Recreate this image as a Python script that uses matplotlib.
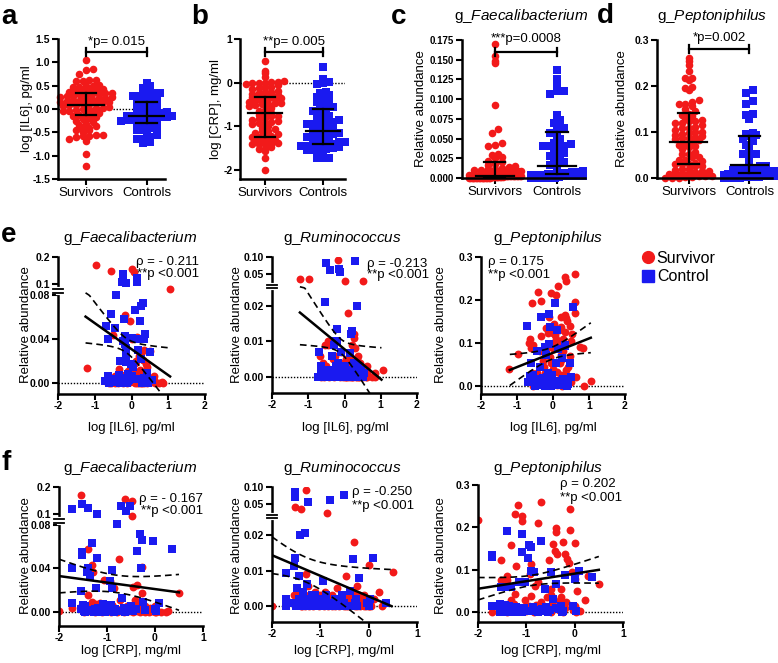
import numpy as np
import matplotlib
matplotlib.use('Agg')
import matplotlib.pyplot as plt
from matplotlib.lines import Line2D
from matplotlib.transforms import blended_transform_factory

# ---------------- data ----------------
groups = ['Survivors', 'Controls']

# IL6 cohort (panels a, c, d, e): one entry per subject
surv_il6 = [1.05, 0.85, 0.83, 0.75, 0.62, 0.6, 0.5, 0.5, 0.48, 0.42,
            0.4, 0.37, 0.37, 0.35, 0.34, 0.32, 0.32, 0.3, 0.28, 0.25,
            0.23, 0.23, 0.21, 0.2, 0.19, 0.18, 0.15, 0.14, 0.12, 0.1,
            0.09, 0.08, 0.05, 0.03, 0.0, 0.0, -0.02, -0.05, -0.05, -0.09,
            -0.1, -0.12, -0.14, -0.17, -0.2, -0.22, -0.28, -0.32, -0.34, -0.37,
            -0.4, -0.42, -0.45, -0.5, -0.55, -0.56, -0.57, -0.58, -0.6, -0.65,
            -0.68, -0.97, -1.22, 0.63, 0.61, 0.52, 0.47, 0.41, 0.39, 0.29,
            0.27, 0.26, 0.22, 0.16, 0.11, 0.07, 0.02, -0.08, -0.25, -0.46]
surv_faec_e = [0.092, 0.0, 0.001, 0.0, 0.002, 0.006, 0.029, 0.004, 0.003, 0.015,
               0.002, 0.01, 0.004, 0.030, 0.0, 0.008, 0.001, 0.021, 0.0, 0.027,
               0.003, 0.012, 0.0, 0.025, 0.007, 0.001, 0.042, 0.005, 0.009, 0.018,
               0.0, 0.146, 0.003, 0.006, 0.155, 0.040, 0.002, 0.057, 0.001, 0.011,
               0.004, 0.0, 0.008, 0.062, 0.003, 0.0, 0.007, 0.002, 0.013, 0.0,
               0.005, 0.001, 0.006, 0.044, 0.0, 0.148, 0.004, 0.002, 0.0, 0.003,
               0.001, 0.170, 0.014, 0.0, 0.003, 0.001, 0.005, 0.0, 0.017, 0.002,
               0.0, 0.01, 0.004, 0.0, 0.02, 0.001, 0.009, 0.003, 0.001, 0.0]
surv_rum_e = [0.002, 0.0, 0.001, 0.0, 0.003, 0.0, 0.038, 0.002, 0.001, 0.004,
              0.0, 0.003, 0.006, 0.0, 0.005, 0.002, 0.0, 0.008, 0.001, 0.011,
              0.004, 0.0, 0.009, 0.003, 0.002, 0.0, 0.001, 0.006, 0.0, 0.018,
              0.002, 0.0, 0.005, 0.0, 0.037, 0.003, 0.001, 0.004, 0.0, 0.002,
              0.007, 0.0, 0.004, 0.092, 0.001, 0.003, 0.0, 0.005, 0.002, 0.001,
              0.01, 0.0, 0.009, 0.003, 0.009, 0.0, 0.001, 0.004, 0.002, 0.0,
              0.006, 0.042, 0.041, 0.0, 0.001, 0.0, 0.002, 0.003, 0.0, 0.002,
              0.012, 0.001, 0.0, 0.003, 0.001, 0.004, 0.0, 0.002, 0.006, 0.01]
surv_pep_e = [0.012, 0.0, 0.088, 0.091, 0.196, 0.26, 0.01, 0.105, 0.14, 0.02,
              0.15, 0.245, 0.157, 0.037, 0.254, 0.165, 0.126, 0.026, 0.11, 0.0,
              0.161, 0.072, 0.138, 0.008, 0.053, 0.13, 0.004, 0.233, 0.1, 0.003,
              0.212, 0.01, 0.119, 0.145, 0.124, 0.04, 0.098, 0.053, 0.217, 0.068,
              0.16, 0.018, 0.124, 0.002, 0.135, 0.03, 0.057, 0.115, 0.198, 0.08,
              0.004, 0.218, 0.03, 0.015, 0.095, 0.0, 0.192, 0.03, 0.088, 0.109,
              0.1, 0.074, 0.039, 0.02, 0.17, 0.12, 0.07, 0.045, 0.01, 0.082,
              0.015, 0.062, 0.025, 0.094, 0.033, 0.108, 0.085, 0.09, 0.045, 0.004]

ctrl_il6 = [0.55, 0.5, 0.46, 0.41, 0.38, 0.35, 0.34, 0.32, 0.28, 0.27,
            0.25, 0.22, 0.21, 0.18, 0.15, 0.14, 0.12, 0.09, 0.05, 0.02,
            0.0, -0.02, -0.06, -0.09, -0.1, -0.12, -0.14, -0.15, -0.15, -0.16,
            -0.17, -0.18, -0.19, -0.2, -0.21, -0.23, -0.23, -0.23, -0.25, -0.28,
            -0.3, -0.32, -0.35, -0.4, -0.41, -0.44, -0.45, -0.5, -0.55, -0.6,
            -0.64, -0.65, -0.7, -0.72]
ctrl_faec_e = [0.003, 0.028, 0.0, 0.009, 0.045, 0.04, 0.005, 0.073, 0.0, 0.070,
               0.022, 0.057, 0.040, 0.03, 0.125, 0.110, 0.004, 0.067, 0.015, 0.041,
               0.006, 0.017, 0.003, 0.008, 0.002, 0.0, 0.106, 0.032, 0.025, 0.019,
               0.004, 0.036, 0.043, 0.0, 0.058, 0.137, 0.120, 0.038, 0.110, 0.005,
               0.02, 0.0, 0.007, 0.003, 0.080, 0.001, 0.050, 0.004, 0.063, 0.0,
               0.040, 0.006, 0.052, 0.002]
ctrl_rum_e = [0.001, 0.0, 0.002, 0.0, 0.003, 0.020, 0.001, 0.0, 0.088, 0.002,
              0.004, 0.0, 0.013, 0.012, 0.0066, 0.001, 0.0, 0.002, 0.0, 0.003,
              0.001, 0.0, 0.002, 0.001, 0.007, 0.057, 0.003, 0.0, 0.066, 0.002,
              0.0, 0.001, 0.004, 0.0134, 0.01, 0.0, 0.003, 0.001, 0.010, 0.002,
              0.009, 0.0, 0.006, 0.0615, 0.001, 0.0, 0.002, 0.081, 0.021, 0.0,
              0.003, 0.001, 0.007, 0.0]
ctrl_pep_e = [0.184, 0.02, 0.053, 0.005, 0.0, 0.01, 0.095, 0.093, 0.003, 0.015,
              0.064, 0.008, 0.002, 0.012, 0.003, 0.085, 0.129, 0.053, 0.192, 0.01,
              0.004, 0.025, 0.0, 0.138, 0.098, 0.167, 0.01, 0.015, 0.03, 0.005,
              0.0, 0.02, 0.072, 0.008, 0.002, 0.091, 0.012, 0.0, 0.006, 0.018,
              0.004, 0.16, 0.045, 0.003, 0.01, 0.08, 0.015, 0.0, 0.025, 0.053,
              0.022, 0.015, 0.008, 0.14]

# CRP cohort (panels b, f)
surv_crp = [-2.0, -1.72, -1.55, -1.52, -1.52, -1.48, -1.41, -1.41, -1.4, -1.39,
            -1.38, -1.32, -1.31, -1.3, -1.3, -1.25, -1.24, -1.23, -1.21, -1.17,
            -1.15, -1.1, -1.1, -1.06, -1.03, -1.0, -0.94, -0.93, -0.91, -0.9,
            -0.87, -0.85, -0.83, -0.8, -0.76, -0.76, -0.73, -0.7, -0.69, -0.65,
            -0.62, -0.58, -0.54, -0.5, -0.48, -0.48, -0.47, -0.46, -0.45, -0.42,
            -0.41, -0.38, -0.38, -0.36, -0.32, -0.3, -0.29, -0.28, -0.27, -0.25,
            -0.24, -0.21, -0.21, -0.18, -0.15, -0.12, -0.1, -0.1, -0.06, -0.03,
            0.0, 0.0, 0.01, 0.05, 0.12, 0.0, 0.22, 0.27, 0.02, 0.5]
surv_faec_f = [0.001, 0.004, 0.169, 0.002, 0.006, 0.0, 0.003, 0.005, 0.058, 0.016,
               0.001, 0.009, 0.043, 0.037, 0.002, 0.0, 0.004, 0.007, 0.003, 0.001,
               0.008, 0.002, 0.0, 0.029, 0.005, 0.001, 0.028, 0.003, 0.0, 0.006,
               0.002, 0.022, 0.004, 0.0, 0.001, 0.049, 0.011, 0.003, 0.002, 0.0,
               0.156, 0.005, 0.001, 0.004, 0.15, 0.002, 0.097, 0.0, 0.023, 0.011,
               0.003, 0.025, 0.001, 0.006, 0.0, 0.002, 0.004, 0.041, 0.017, 0.001,
               0.003, 0.0, 0.005, 0.002, 0.001, 0.0, 0.004, 0.002, 0.001, 0.003,
               0.0, 0.005, 0.002, 0.001, 0.0, 0.003, 0.0, 0.001, 0.0, 0.017]
surv_rum_f = [0.0, 0.002, 0.003, 0.045, 0.001, 0.004, 0.0, 0.040, 0.001, 0.002,
              0.0, 0.003, 0.0, 0.091, 0.009, 0.0058, 0.002, 0.0, 0.001, 0.003,
              0.0, 0.004, 0.001, 0.002, 0.0, 0.003, 0.001, 0.0, 0.002, 0.004,
              0.033, 0.0, 0.001, 0.002, 0.0, 0.003, 0.001, 0.0, 0.002, 0.005,
              0.0, 0.001, 0.003, 0.0, 0.002, 0.001, 0.0, 0.0086, 0.001, 0.0,
              0.002, 0.003, 0.0, 0.001, 0.004, 0.018, 0.0, 0.001, 0.002, 0.0058,
              0.0, 0.001, 0.003, 0.0, 0.002, 0.001, 0.0, 0.003, 0.0, 0.002,
              0.0117, 0.0, 0.001, 0.0, 0.002, 0.0, 0.004, 0.0, 0.001, 0.0097]
surv_pep_f = [0.217, 0.0, 0.02, 0.123, 0.077, 0.01, 0.086, 0.075, 0.005, 0.0,
              0.013, 0.03, 0.159, 0.004, 0.012, 0.02, 0.044, 0.232, 0.109, 0.254,
              0.008, 0.228, 0.215, 0.01, 0.028, 0.003, 0.015, 0.09, 0.113, 0.038,
              0.005, 0.0, 0.062, 0.018, 0.071, 0.211, 0.007, 0.025, 0.26, 0.012,
              0.003, 0.035, 0.123, 0.0, 0.054, 0.04, 0.008, 0.02, 0.162, 0.015,
              0.144, 0.198, 0.19, 0.138, 0.005, 0.03, 0.036, 0.054, 0.01, 0.0,
              0.165, 0.138, 0.011, 0.025, 0.125, 0.117, 0.195, 0.244, 0.095, 0.006,
              0.078, 0.015, 0.163, 0.05, 0.003, 0.09, 0.03, 0.085, 0.0, 0.067]

ctrl_crp = [0.35, 0.08, 0.02, 0.0, -0.04, -0.21, -0.24, -0.27, -0.29, -0.32,
            -0.38, -0.39, -0.45, -0.5, -0.52, -0.55, -0.6, -0.62, -0.65, -0.68,
            -0.7, -0.75, -0.8, -0.84, -0.86, -0.89, -0.9, -0.91, -0.94, -0.95,
            -0.97, -1.03, -1.05, -1.09, -1.1, -1.16, -1.21, -1.21, -1.23, -1.25,
            -1.28, -1.31, -1.36, -1.39, -1.4, -1.41, -1.42, -1.45, -1.52, -1.53,
            -1.53, -1.54, -1.55, -1.72, -1.72, -1.72, -1.12, -1.18, -1.3, -1.35,
            -1.45, -1.5, -1.08, -1.48]
ctrl_faec_f = [0.058, 0.008, 0.001, 0.003, 0.065, 0.002, 0.009, 0.066, 0.04, 0.072,
               0.056, 0.003, 0.001, 0.005, 0.131, 0.002, 0.111, 0.0, 0.004, 0.013,
               0.131, 0.001, 0.081, 0.003, 0.0, 0.039, 0.022, 0.006, 0.028, 0.002,
               0.001, 0.004, 0.0, 0.007, 0.002, 0.001, 0.102, 0.05, 0.022, 0.003,
               0.0, 0.063, 0.033, 0.04, 0.122, 0.037, 0.002, 0.005, 0.139, 0.055,
               0.052, 0.019, 0.003, 0.12, 0.04, 0.008, 0.0, 0.004, 0.001, 0.002,
               0.0, 0.006, 0.003, 0.001]
ctrl_rum_f = [0.001, 0.0135, 0.002, 0.0, 0.001, 0.008, 0.0, 0.002, 0.001, 0.0133,
              0.0, 0.0044, 0.0, 0.001, 0.075, 0.003, 0.0, 0.002, 0.001, 0.0,
              0.002, 0.0, 0.062, 0.001, 0.0, 0.003, 0.0, 0.001, 0.0072, 0.0,
              0.002, 0.0, 0.001, 0.0, 0.003, 0.0, 0.001, 0.0, 0.002, 0.056,
              0.0063, 0.0207, 0.0, 0.001, 0.002, 0.0, 0.02, 0.0086, 0.086, 0.071,
              0.0137, 0.0114, 0.001, 0.0095, 0.0, 0.002, 0.0, 0.003, 0.001, 0.004,
              0.002, 0.0, 0.001, 0.005]
ctrl_pep_f = [0.082, 0.098, 0.003, 0.078, 0.015, 0.088, 0.004, 0.0, 0.015, 0.008,
              0.067, 0.01, 0.032, 0.095, 0.005, 0.0, 0.012, 0.055, 0.002, 0.008,
              0.167, 0.0, 0.006, 0.095, 0.012, 0.004, 0.098, 0.155, 0.002, 0.159,
              0.128, 0.072, 0.01, 0.185, 0.142, 0.072, 0.005, 0.012, 0.0, 0.008,
              0.003, 0.059, 0.015, 0.192, 0.0, 0.059, 0.01, 0.004, 0.059, 0.008,
              0.012, 0.0, 0.02, 0.136, 0.131, 0.015, 0.005, 0.01, 0.003, 0.0,
              0.018, 0.006, 0.0, 0.012]

# median, 25th, 75th percentile bars as drawn (survivors, controls)
stats_a = [[0.086, -0.13, 0.34], [-0.16, -0.29, 0.14]]
stats_b = [[-0.70, -1.23, -0.33], [-1.10, -1.39, -0.60]]
stats_c = [[0.003, 0.001, 0.020], [0.0146, 0.0054, 0.058]]
stats_d = [[0.078, 0.031, 0.142], [0.0286, 0.011, 0.091]]
p_texts = ['*p= 0.015', '**p= 0.005', '***p=0.0008', '*p=0.002']

# regression line (x1, x2, y1, y2) and 95% band (x0, a, b)
fit_e = [[-1.25, 1.05, 0.0606, 0.006, -0.15, 0.0065, 0.021],
         [-1.23, 1.02, 0.0181, -0.00075, -0.1, 0.002, 0.0078],
         [-1.2, 1.05, 0.037, 0.112, -0.05, 0.014, 0.029]]
fit_f = [[-2.0, 0.5, 0.033, 0.018, -0.8, 0.008, 0.0111],
         [-2.0, 0.47, 0.0144, 0.0, -1.3, 0.0035, 0.0055],
         [-2.0, 0.5, 0.0554, 0.1, -0.88, 0.012, 0.0211]]
rho_e = ['\u03c1 = - 0.211', '\u03c1 = -0.213', '\u03c1 = 0.175']
rho_f = ['\u03c1 = - 0.167', '\u03c1 = -0.250', '\u03c1 = 0.202']
p_corr = '**p <0.001'
genera = ['Faecalibacterium', 'Ruminococcus', 'Peptoniphilus']

# ---------------- style ----------------
plt.rcParams['font.family'] = ['Liberation Sans', 'DejaVu Sans']
plt.rcParams['mathtext.fontset'] = 'custom'
plt.rcParams['mathtext.it'] = 'Liberation Sans:italic'
plt.rcParams['mathtext.rm'] = 'Liberation Sans'

RED = '#f21a1a'
BLUE = '#1a1af0'
W, H = 778, 663
fig = plt.figure(figsize=(W / 100, H / 100), dpi=100)


def box(l, r, t, b):
    return fig.add_axes([l / W, 1 - b / H, (r - l) / W, (b - t) / H])


def ftext(x, y, s, **kw):
    fig.text(x / W, 1 - y / H, s, **kw)


def style(ax):
    for s in ['top', 'right']:
        ax.spines[s].set_visible(False)
    for s in ['left', 'bottom']:
        ax.spines[s].set_linewidth(1.8)
    ax.tick_params(direction='out', length=4, width=1.5, pad=1.5)


def swarm(vals, pos, bin_h, w=0.11, half=0.42):
    v = np.sort(np.asarray(vals, float))
    rows = np.round(v / bin_h)
    xs = np.empty_like(v)
    for r in np.unique(rows):
        idx = np.where(rows == r)[0]
        n = len(idx)
        sp = w if n < 2 else min(w, 2 * half / (n - 1))
        xs[idx] = pos + (np.arange(n) - (n - 1) / 2) * sp
    return xs, v


def dot_panel(ax, surv, ctrl, stats, bin_h, ylim, xlim, yt, ytl, ptxt, br_y, txt_y,
              zero=False, tick_fs=7.5):
    style(ax)
    if zero:
        ax.axhline(0, color='k', lw=1, ls=(0, (1, 1.2)), zorder=1)
    for pos, vals, col, mk, st in [(0, surv, RED, 'o', stats[0]), (1, ctrl, BLUE, 's', stats[1])]:
        xs, ys = swarm(vals, pos, bin_h)
        ax.scatter(xs, ys, s=30 if mk == 'o' else 26, c=col, marker=mk, linewidths=0,
                   zorder=2, clip_on=False)
        med, lo, hi = st
        ax.plot([pos - 0.3, pos + 0.3], [med, med], color='k', lw=1.6, zorder=3)
        ax.plot([pos, pos], [lo, hi], color='k', lw=1.6, zorder=3)
        for v in (lo, hi):
            ax.plot([pos - 0.17, pos + 0.17], [v, v], color='k', lw=1.6, zorder=3)
    d = 0.028 * (ylim[1] - ylim[0])
    ax.plot([0, 1], [br_y, br_y], color='k', lw=1.6, clip_on=False)
    for p in (0, 1):
        ax.plot([p, p], [br_y - d, br_y + d], color='k', lw=1.6, clip_on=False)
    ax.text(0.5, txt_y, ptxt, ha='center', va='center', fontsize=9.5)
    ax.set_ylim(*ylim)
    ax.set_xlim(*xlim)
    ax.set_yticks(yt, ytl, fontsize=tick_fs, fontweight='bold')
    ax.set_xticks([0, 1], groups, fontsize=9.5)


def broken_scale(ax, ys_k, ts_k):
    ax.set_yscale('function', functions=(lambda y: np.interp(y, ys_k, ts_k),
                                         lambda t: np.interp(t, ts_k, ys_k)))


def axis_break(ax, y1, y2):
    tr = blended_transform_factory(ax.transAxes, ax.transData)
    ax.plot([0, 0], [y1, y2], color='white', lw=3, transform=tr, clip_on=False, zorder=5)
    for y in (y1, y2):
        ax.plot([-0.035, 0.035], [y, y], color='k', lw=1.3, transform=tr, clip_on=False, zorder=6)


def corr_panel(ax, xs, ys, xc, yc, fit, xlim, xt, ylim, yt, ytl, genus):
    style(ax)
    if genus == 'Faecalibacterium':
        broken_scale(ax, [-1, 0.08, 0.1, 1.0], [-1, 0.08, 0.09, 0.315])
    elif genus == 'Ruminococcus':
        broken_scale(ax, [-1, 0.025, 0.05, 1.0], [-1, 0.025, 0.0289, 0.1201])
    ax.axhline(0, color='k', lw=1, ls=(0, (1, 1.2)), zorder=1)
    ax.scatter(xs, ys, s=32, c=RED, marker='o', linewidths=0, zorder=2)
    ax.scatter(xc, yc, s=28, c=BLUE, marker='s', linewidths=0, zorder=2)
    x1, x2, y1, y2, x0, a, b = fit
    xx = np.linspace(x1, x2, 80)
    yy = y1 + (y2 - y1) * (xx - x1) / (x2 - x1)
    hw = np.sqrt(a ** 2 + (b * (xx - x0)) ** 2)
    ax.plot(xx, yy, color='k', lw=1.8, zorder=4)
    for sgn in (1, -1):
        ax.plot(xx, yy + sgn * hw, color='k', lw=1.2, ls=(0, (4, 2.5)), zorder=4)
    ax.set_xlim(*xlim)
    ax.set_ylim(*ylim)
    ax.set_xticks(xt, [str(v) for v in xt], fontsize=7.5, fontweight='bold')
    ax.set_yticks(yt, ytl, fontsize=7.5, fontweight='bold')
    ax.tick_params(axis='x', pad=1)
    if genus == 'Faecalibacterium':
        axis_break(ax, 0.084, 0.091)
    elif genus == 'Ruminococcus':
        axis_break(ax, 0.0249, 0.0295)


# ---------------- top row ----------------
ax = box(58, 165, 39, 179)
dot_panel(ax, surv_il6, ctrl_il6, stats_a, 0.1, (-1.5, 1.5), (-0.46, 1.3),
          [-1.5, -1.0, -0.5, 0.0, 0.5, 1.0, 1.5], ['-1.5', '-1.0', '-0.5', '0.0', '0.5', '1.0', '1.5'],
          p_texts[0], 1.22, 1.44, zero=True)
ax = box(240, 345, 39, 179)
dot_panel(ax, surv_crp, ctrl_crp, stats_b, 0.1, (-2.2, 1.0), (-0.43, 1.38),
          [-2, -1, 0, 1], ['-2', '-1', '0', '1'], p_texts[1], 0.70, 0.93, zero=True)
ax = box(462, 585, 40, 178)
ct = [0, 0.025, 0.05, 0.075, 0.1, 0.125, 0.15, 0.175]
dot_panel(ax, surv_faec_e, ctrl_faec_e, stats_c, 0.006, (0, 0.175), (-0.53, 1.45),
          ct, ['%.3f' % v for v in ct], p_texts[2], 0.16, 0.1763, tick_fs=7)
ax = box(657, 772, 40, 178)
dot_panel(ax, surv_pep_e, ctrl_pep_e, stats_d, 0.011, (0, 0.3), (-0.52, 1.37),
          [0, 0.1, 0.2, 0.3], ['0.0', '0.1', '0.2', '0.3'], p_texts[3], 0.28, 0.3043)

ftext(27, 109, 'log [IL6], pg/ml', rotation=90, ha='center', va='center', fontsize=9.5)
ftext(216, 109, 'log [CRP], mg/ml', rotation=90, ha='center', va='center', fontsize=9.5)
ftext(421, 109, 'Relative abundance', rotation=90, ha='center', va='center', fontsize=9.5)
ftext(622, 109, 'Relative abundance', rotation=90, ha='center', va='center', fontsize=9.5)
ftext(521, 16, r'g_$\mathit{Faecalibacterium}$', ha='center', va='center', fontsize=11)
ftext(712, 16, r'g_$\mathit{Peptoniphilus}$', ha='center', va='center', fontsize=11)

# ---------------- rows e and f ----------------
e_boxes = [(58, 205, 257, 394), (272, 417, 257, 393), (481, 625, 257, 394)]
f_boxes = [(59, 203, 487, 626), (272, 417, 487, 622), (478, 623, 485, 622)]
e_y = [(surv_faec_e, ctrl_faec_e), (surv_rum_e, ctrl_rum_e), (surv_pep_e, ctrl_pep_e)]
f_y = [(surv_faec_f, ctrl_faec_f), (surv_rum_f, ctrl_rum_f), (surv_pep_f, ctrl_pep_f)]
yt_g = [[0, 0.04, 0.08, 0.1, 0.2], [0, 0.01, 0.02, 0.05, 0.10], [0, 0.1, 0.2, 0.3]]
ytl_g = [['0.00', '0.04', '0.08', '0.1', '0.2'], ['0.00', '0.01', '0.02', '0.05', '0.10'],
         ['0.0', '0.1', '0.2', '0.3']]
ylim_e = [(-0.01, 0.2), (-0.0045, 0.10), (-0.019, 0.3)]
ylim_f = [(-0.013, 0.2), (-0.0045, 0.10), (-0.023, 0.3)]

for i in range(3):
    ax = box(*e_boxes[i])
    corr_panel(ax, surv_il6, e_y[i][0], ctrl_il6, e_y[i][1], fit_e[i], (-2, 2), [-2, -1, 0, 1, 2],
               ylim_e[i], yt_g[i], ytl_g[i], genera[i])
    ax = box(*f_boxes[i])
    corr_panel(ax, surv_crp, f_y[i][0], ctrl_crp, f_y[i][1], fit_f[i], (-2, 1), [-2, -1, 0, 1],
               ylim_f[i], yt_g[i], ytl_g[i], genera[i])

title_x = [130, 342, 548]
for i in range(3):
    ftext(title_x[i], 238, r'g_$\mathit{%s}$' % genera[i], ha='center', va='center', fontsize=11)
    ftext(title_x[i], 468, r'g_$\mathit{%s}$' % genera[i], ha='center', va='center', fontsize=11)

for x in [26, 237, 441]:
    ftext(x, 325, 'Relative abundance', rotation=90, ha='center', va='center', fontsize=9.5)
    ftext(x, 556, 'Relative abundance', rotation=90, ha='center', va='center', fontsize=9.5)
for x in [131, 345, 553]:
    ftext(x, 428, 'log [IL6], pg/ml', ha='center', va='center', fontsize=9.5)
for x in [131, 344, 551]:
    ftext(x, 651, 'log [CRP], mg/ml', ha='center', va='center', fontsize=9.5)

# correlation statistics
ftext(199, 262, rho_e[0], ha='right', va='center', fontsize=9.5)
ftext(199, 274, p_corr, ha='right', va='center', fontsize=9.5)
ftext(367, 264, rho_e[1], ha='left', va='center', fontsize=9.5)
ftext(367, 275, p_corr, ha='left', va='center', fontsize=9.5)
ftext(488, 262, rho_e[2], ha='left', va='center', fontsize=9.5)
ftext(488, 275, p_corr, ha='left', va='center', fontsize=9.5)
ftext(203, 499, rho_f[0], ha='right', va='center', fontsize=9.5)
ftext(203, 511, p_corr, ha='right', va='center', fontsize=9.5)
ftext(352, 492, rho_f[1], ha='left', va='center', fontsize=9.5)
ftext(352, 506, p_corr, ha='left', va='center', fontsize=9.5)
ftext(560, 484, rho_f[2], ha='left', va='center', fontsize=9.5)
ftext(560, 498, p_corr, ha='left', va='center', fontsize=9.5)

# legend
handles = [Line2D([], [], marker='o', color=RED, ls='', ms=8.5),
           Line2D([], [], marker='s', color=BLUE, ls='', ms=8)]
fig.legend(handles, ['Survivor', 'Control'], loc='upper left', bbox_to_anchor=(632 / W, 1 - 243 / H),
           frameon=False, fontsize=11.5, handletextpad=0.05, labelspacing=0.2, borderpad=0,
           handlelength=1.0)

# panel letters
for lab, x, y in [('a', 1, 17), ('b', 191, 17), ('c', 391, 17), ('d', 597, 16), ('e', 1, 235), ('f', 1, 463)]:
    ftext(x, y, lab, ha='left', va='center', fontsize=20, fontweight='bold')

fig.savefig('out.png', dpi=100)
